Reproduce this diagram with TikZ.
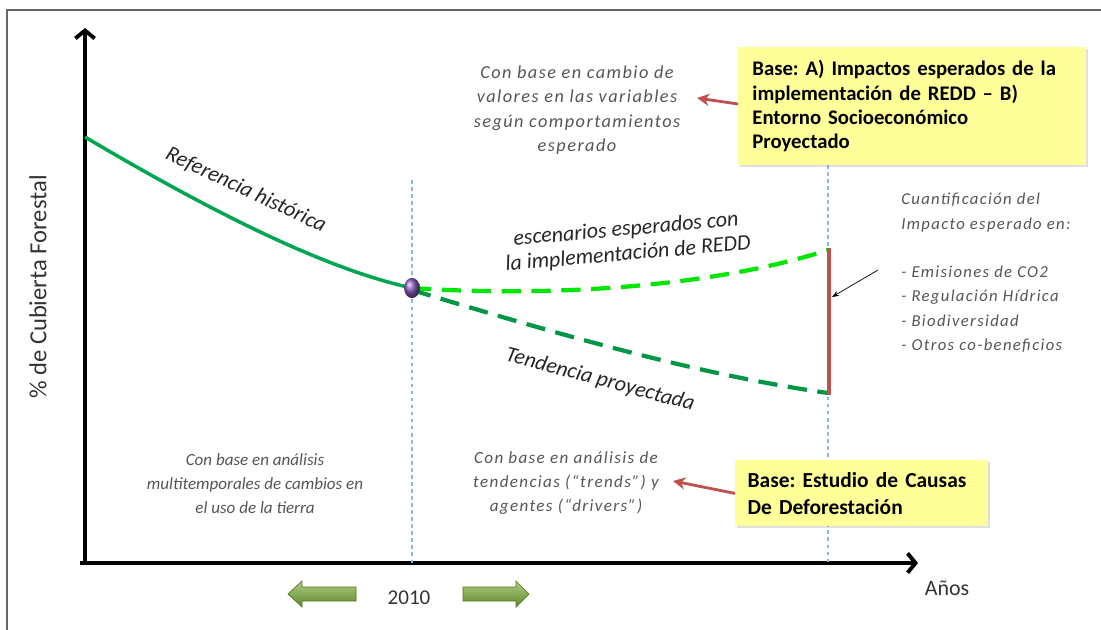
\documentclass[tikz,border=0pt]{standalone}
\usepackage{fontspec}
\setmainfont{Carlito}
\newfontfamily\widenote[LetterSpace=8]{Carlito}
\frenchspacing
\usepackage{xcolor}
\usepackage{tikz}
\usetikzlibrary{
    positioning,
    arrows.meta,
    shadows,
    shapes.geometric
}
\definecolor{curveGreen}{RGB}{0, 165, 80}
\definecolor{brightGreen}{RGB}{0, 230, 0}
\definecolor{darkGreen}{RGB}{0, 150, 70}
\definecolor{noteRed}{RGB}{192, 80, 77}
\definecolor{noteYellow}{RGB}{255, 255, 153}
\definecolor{guideBlue}{RGB}{140, 185, 225}
\definecolor{blockGreen}{RGB}{120, 170, 50}
\definecolor{textGray}{RGB}{85, 85, 85}
\definecolor{pointPurple}{RGB}{130, 90, 185}

\begin{document}
\begin{tikzpicture}[x=0.02cm, y=-0.02cm, >=Stealth,
    note/.style={text=textGray, align=center},
    basebox/.style={fill=noteYellow, align=left, anchor=north west,
        drop shadow={opacity=0.25, shadow xshift=1pt, shadow yshift=-1pt}},
    curvelabel/.style={font=\fontsize{12.5}{14}\selectfont\itshape, text=black!85, align=center},
    pointer/.style={-{Stealth[length=7pt, width=7pt]}, line width=1.6pt, noteRed},
    axis/.style={line width=2.2pt, -{Straight Barb[length=4.5pt, width=11pt]}},
    guide/.style={guideBlue, line width=0.8pt, dash pattern=on 2pt off 2pt},
    scenario/.style={line width=2.4pt, dash pattern=on 11pt off 6pt}]
    \useasboundingbox (0,0) rectangle (1101,629);

    % frame
    \draw[black!60, line width=0.8pt] (7,640) |- (1101,10);

    % axes
    \coordinate (origin) at (85,563);
    \coordinate (yTop) at (85,28);
    \coordinate (xEnd) at (918,563);
    \draw[axis] (85,565) -- (yTop);
    \draw[axis] (80,563) -- (xEnd);
    \node[rotate=90, font=\fontsize{14}{16}\selectfont, text=black!80] (yLabel) at (38,287) {\% de Cubierta Forestal};
    \node[font=\fontsize{12.5}{14}\selectfont, text=black!80] (anios) at (947,588) {Años};

    % guides at 2010 and horizon
    \coordinate (hoyTop) at (412,180);
    \coordinate (hoyBase) at (412,563);
    \coordinate (finTop) at (828,165);
    \coordinate (finBase) at (828,563);
    \draw[guide] (hoyTop) -- (hoyBase);
    \draw[guide] (finTop) -- (finBase);

    % curves
    \coordinate (start) at (85,137);
    \coordinate (conREDD) at (828,250);
    \coordinate (sinREDD) at (828,393);
    \draw[curveGreen, line width=2pt] (start) .. controls (200,205) and (320,268) .. (412,288);
    \draw[scenario, brightGreen] (412,288) .. controls (560,298) and (720,285) .. (conREDD);
    \draw[scenario, darkGreen] (412,290) .. controls (560,335) and (700,375) .. (sinREDD);
    \node[ellipse, ball color=pointPurple, minimum width=9pt, minimum height=11.5pt, inner sep=0pt] (hoy) at (412,288) {};

    \node[curvelabel, rotate=-25] (histLabel) at (246,190) {Referencia histórica};
    \node[curvelabel, rotate=5] (escLabel) at (627,242) {escenarios esperados con\\la implementación de REDD};
    \node[curvelabel, rotate=-15] (tendLabel) at (600,380) {Tendencia proyectada};

    % impact range
    \coordinate (barTop) at (829,248);
    \coordinate (barBottom) at (829,395);
    \draw[noteRed, line width=2.4pt] (barTop) -- (barBottom);

    % notes
    \node[note, font=\fontsize{10.4}{13.8}\selectfont\widenote\itshape] (cambioNote) at (577,110)
        {Con base en cambio de\\valores en las variables\\según comportamientos\\esperado};
    \node[note, font=\fontsize{9.5}{13.8}\selectfont\widenote\itshape, align=left, anchor=north west, inner sep=0pt] (impactNote) at (901,193)
        {Cuantificación del\\Impacto esperado en:\\[13.8pt]- Emisiones de CO2\\- Regulación Hídrica\\- Biodiversidad\\- Otros co-beneficios};
    \node[note, font=\fontsize{9.7}{13.6}\selectfont\itshape] (usoNote) at (255,484)
        {Con base en análisis\\multitemporales de cambios en\\el uso de la tierra};
    \node[note, font=\fontsize{9.7}{13.6}\selectfont\widenote\itshape] (tendNote) at (566,483)
        {Con base en análisis de\\tendencias  (“trends”) y\\agentes (“drivers”)};

    \coordinate (listStart) at (878,270);
    \draw[->, thin, >={Stealth[length=4pt]}] (listStart) -- (832,297);

    % yellow boxes
    \node[basebox, font=\fontsize{11.8}{13.8}\selectfont\bfseries, text width=182pt, inner xsep=8pt,
        minimum width=196pt, minimum height=67pt] (boxA) at (738,47)
        {Base: A) Impactos esperados de la\\implementación de REDD -- B)\\Entorno Socioeconómico\\Proyectado};
    \node[basebox, font=\fontsize{12.2}{15.4}\selectfont\bfseries, text width=130pt, inner xsep=7pt,
        minimum width=142pt, minimum height=37.6pt] (boxB) at (735,460)
        {Base: Estudio de Causas\\De Deforestación};
    \coordinate (cambioTip) at (697,98);
    \coordinate (tendTip) at (673,481);
    \draw[pointer] (boxA.west |- 0,104) -- (cambioTip);
    \draw[pointer] (boxB.west) -- (tendTip);

    % 2010 with block arrows
    \node[font=\fontsize{12}{14}\selectfont, text=black!80] (year) at (409,598) {2010};
    \shade[top color=blockGreen!60!white, bottom color=blockGreen!80!black, draw=blockGreen!70!black]
        (288,594) -- (302,581) -- (302,587) -- (356,587) -- (356,601) -- (302,601) -- (302,607) -- cycle;
    \shade[top color=blockGreen!60!white, bottom color=blockGreen!80!black, draw=blockGreen!70!black]
        (529,594) -- (516,581) -- (516,587) -- (463,587) -- (463,601) -- (516,601) -- (516,607) -- cycle;
\end{tikzpicture}
\end{document}
